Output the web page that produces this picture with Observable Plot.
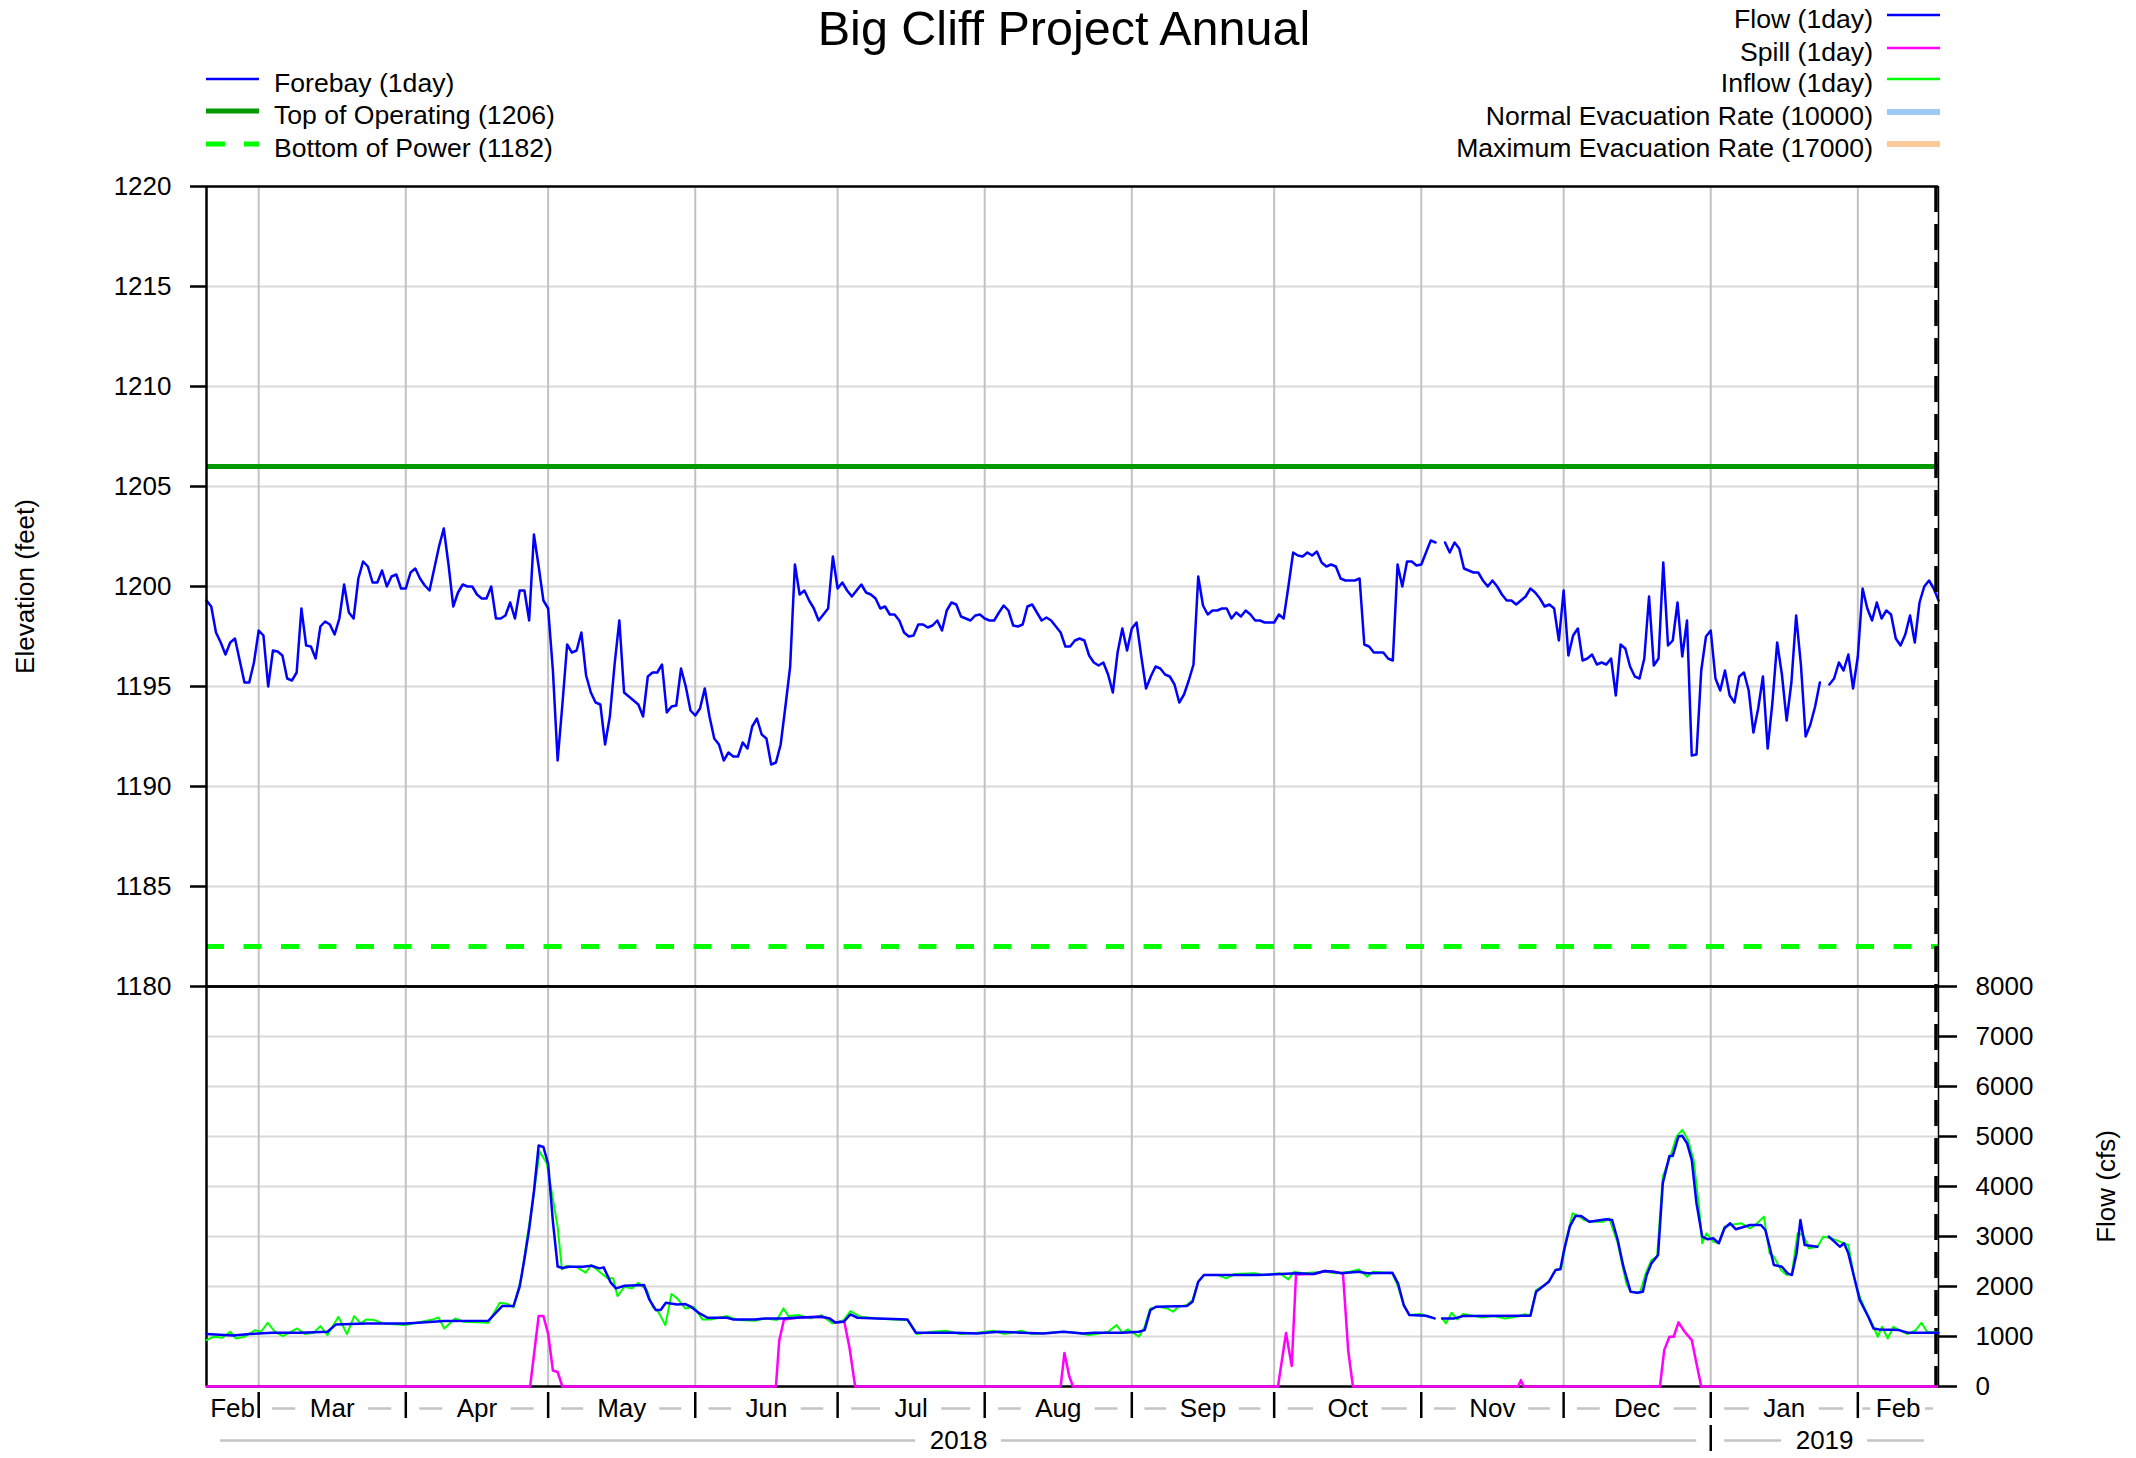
<!DOCTYPE html>
<html><head><meta charset="utf-8">
<script src="https://cdn.jsdelivr.net/npm/d3@7"></script>
<script src="https://cdn.jsdelivr.net/npm/@observablehq/plot@0.6"></script>
<style>
html,body{margin:0;padding:0;background:#fff;}
#chart{position:relative;width:2136px;height:1458px;overflow:hidden;background:#fff;font-family:"Liberation Sans",Arial,Helvetica,sans-serif;}
#chart svg{position:absolute;left:0;}
</style></head><body><div id="chart"></div>
<script>
// ---------------- data ----------------
const chartTitle = "Big Cliff Project Annual";
const startDate = Date.UTC(2018, 1, 18);   // first daily value
const endDate = Date.UTC(2019, 1, 18);     // last daily value
const DAY = 864e5;

// Forebay elevation (ft), one value per day from 2018-02-18 (null = missing)
const forebay = [
1199.3,1199.0,1197.7,1197.2,1196.6,1197.2,1197.4,1196.3,1195.2,1195.2,
1196.2,1197.8,1197.55,1195.0,1196.8,1196.75,1196.55,1195.4,1195.3,1195.7,
1198.9,1197.05,1197.0,1196.4,1198.0,1198.25,1198.1,1197.6,1198.4,1200.1,
1198.7,1198.4,1200.4,1201.25,1201.0,1200.2,1200.2,1200.8,1200.0,1200.5,
1200.6,1199.9,1199.9,1200.7,1200.9,1200.4,1200.05,1199.8,1200.9,1202.0,
1202.9,1201.1,1199.0,1199.7,1200.1,1200.0,1200.0,1199.6,1199.4,1199.4,
1200.0,1198.4,1198.4,1198.55,1199.2,1198.4,1199.8,1199.8,1198.3,1202.6,
1201.0,1199.3,1198.9,1195.8,1191.3,1194.1,1197.1,1196.7,1196.8,1197.7,
1195.55,1194.7,1194.2,1194.1,1192.1,1193.5,1196.1,1198.3,1194.7,1194.5,
1194.3,1194.1,1193.5,1195.5,1195.7,1195.7,1196.1,1193.7,1194.0,1194.05,
1195.9,1195.0,1193.8,1193.55,1193.9,1194.9,1193.5,1192.4,1192.1,1191.3,
1191.7,1191.5,1191.5,1192.2,1191.9,1193.0,1193.4,1192.6,1192.4,1191.1,
1191.2,1192.1,1194.0,1196.0,1201.1,1199.6,1199.8,1199.3,1198.9,1198.3,
1198.6,1198.9,1201.5,1199.9,1200.2,1199.8,1199.5,1199.8,1200.1,1199.7,
1199.6,1199.4,1198.9,1199.0,1198.6,1198.6,1198.3,1197.7,1197.5,1197.55,
1198.1,1198.1,1197.95,1198.05,1198.3,1197.8,1198.8,1199.2,1199.1,1198.5,
1198.4,1198.3,1198.55,1198.6,1198.4,1198.3,1198.3,1198.7,1199.05,1198.8,
1198.05,1198.0,1198.1,1199.0,1199.1,1198.7,1198.3,1198.45,1198.3,1198.0,
1197.7,1197.0,1197.0,1197.3,1197.4,1197.3,1196.55,1196.2,1196.05,1196.2,
1195.6,1194.7,1196.7,1197.9,1196.8,1197.9,1198.2,1196.5,1194.9,1195.5,
1196.0,1195.9,1195.6,1195.5,1195.1,1194.2,1194.6,1195.3,1196.1,1200.5,
1199.05,1198.6,1198.8,1198.8,1198.9,1198.9,1198.4,1198.7,1198.5,1198.8,
1198.6,1198.3,1198.3,1198.2,1198.2,1198.2,1198.6,1198.4,1200.0,1201.7,
1201.55,1201.5,1201.7,1201.55,1201.75,1201.2,1201.0,1201.1,1201.0,1200.4,
1200.3,1200.3,1200.3,1200.4,1197.1,1197.0,1196.7,1196.7,1196.7,1196.4,
1196.3,1201.1,1200.0,1201.25,1201.25,1201.05,1201.1,1201.7,1202.3,1202.2,
null,1202.2,1201.7,1202.2,1201.9,1200.9,1200.8,1200.7,1200.7,1200.3,
1200.0,1200.3,1200.0,1199.6,1199.3,1199.3,1199.1,1199.3,1199.5,1199.9,
1199.7,1199.4,1199.0,1199.1,1198.9,1197.3,1199.8,1196.55,1197.55,1197.9,
1196.3,1196.4,1196.6,1196.1,1196.2,1196.1,1196.4,1194.55,1197.1,1196.9,
1196.0,1195.5,1195.4,1196.4,1199.5,1196.05,1196.4,1201.2,1197.05,1197.3,
1199.2,1196.5,1198.3,1191.55,1191.6,1195.8,1197.5,1197.8,1195.4,1194.8,
1195.8,1194.55,1194.2,1195.5,1195.7,1194.8,1192.7,1193.9,1195.5,1191.9,
1194.2,1197.2,1195.6,1193.3,1195.2,1198.55,1196.1,1192.5,1193.1,1194.0,
1195.2,null,1195.1,1195.4,1196.2,1195.8,1196.6,1194.9,1196.5,1199.9,
1198.9,1198.3,1199.2,1198.4,1198.8,1198.6,1197.4,1197.05,1197.6,1198.55,
1197.2,1199.2,1200.0,1200.3,1199.9,1199.3
];

// Flow (cfs): day offset from 2018-02-18 and value read at each visible vertex
const flowDays = [0,5.6,9.1,13.8,19.7,25.5,27.3,33.7,41.9,45.4,50.1,59.4,62.3,64.7,66,67,68,69,70,71,72,73,74,75,76.4,79.3,81.1,82.8,83.7,85.2,86.3,88.1,92.2,93.3,94.7,95.7,96.8,99.2,100.9,102.1,103.9,105.6,109.7,110.9,115.6,117.9,121.4,124.9,129.6,131.3,132.5,134.3,135.7,137.2,141.3,144.8,147.7,149.5,157.7,162.3,167,171.7,176.4,180.5,184.7,187.1,193,196.5,197.7,198.9,200.1,206.6,207.8,209,210.2,221.5,229.8,233.3,235.7,237.5,239.2,242.8,244.6,249.9,251.1,252.3,253.5,257,258.8,259.6,260.4,263,264.8,279,280.2,282,282.9,284.3,285.3,286.1,287.3,288.5,289.7,291.4,295,296.2,297.4,298.6,300.1,301.5,302.7,303.5,304.5,305.9,306.9,308.3,309,310.2,311,312,313,314,315.2,316.4,317.5,318.7,319.9,321.1,322.3,325.3,327.6,328.5,329.4,330.3,332,333.2,334.1,335.1,335.9,336.8,339.5,340.7,341.9,344.2,345.1,346,347.2,348.4,350.2,351.3,352.5,356.7,358.5,365];
const flowCfs = [1048,1021,1048,1075,1075,1095,1242,1262,1262,1282,1308,1315,1609,1609,2000,2550,3150,3900,4820,4790,4450,3300,2400,2370,2396,2396,2416,2363,2383,2076,1962,2016,2029,1742,1529,1529,1675,1642,1649,1595,1462,1375,1375,1342,1342,1362,1362,1382,1395,1362,1282,1295,1442,1375,1362,1348,1342,1075,1075,1061,1095,1075,1061,1095,1061,1075,1075,1095,1128,1529,1595,1609,1695,2096,2229,2229,2263,2250,2310,2296,2263,2296,2263,2276,2063,1629,1428,1415,1362,null,1362,1362,1408,1415,1896,2029,2096,2330,2343,2730,3197,3411,3411,3297,3344,3331,2930,2396,1896,1876,1896,2229,2463,2630,4065,4612,4612,5000,5013,4866,4532,3665,2997,2944,2964,2864,3164,3264,3144,3231,3231,3131,2797,2430,2396,2263,2229,2663,3331,2830,2797,null,2997,2797,2864,2663,2196,1729,1395,1162,1141,1128,1075,1075];

// Inflow (cfs)
const inflowDays = [0,1.5,3.3,5,6.2,8,10.3,11.5,12.9,14.4,16.1,19.1,20.8,22.6,24,25.5,27.8,29.6,31.1,32.5,33.7,35.4,37.2,41.9,47.7,48.9,50.1,52.4,54.2,59.4,61.8,63.5,64.7,66.4,67.6,68.8,70.2,71.7,74,74.9,75.8,78.1,79.9,81.1,82.8,84.6,85.7,86.6,88.1,89.6,91,92.8,94,95.2,96.7,98,99.2,100.9,102.7,104.5,106.2,109.7,112.1,115.6,117.9,120.2,121.6,122.6,124.9,127.3,129.6,131.9,134.3,135.7,137.8,141.3,144.8,147.7,149.7,153,155.9,158.8,162.3,165.9,168.2,171.7,174,177.5,181,183.5,185.9,187.6,190,191.8,193,194.2,196.5,197.7,198.9,200.7,202.5,203.7,204.8,206.6,207.8,209,210.2,213.1,214.9,216.7,220.9,222.6,226.2,228,229.2,230.9,235.7,238.1,241,242.8,244.6,245.8,249.9,251.1,252.3,253.5,255.9,258.8,259.6,260.4,261.2,262.4,263.6,264.8,268.9,271.3,273.6,276,277.8,279,280.2,282,283.1,284.3,285.5,286.7,287.9,289.1,290.3,292,294.4,295.6,297.4,299.2,300.1,302.1,303.3,304.5,305.7,306.9,308.6,309.8,311,312.2,313.4,314.6,315.2,316.1,317.5,318.7,319.9,321.1,323.5,325.3,326.4,328.2,329.4,330.3,331.8,333,334.1,335.3,336.5,337.7,339.5,340.7,342.5,344.2,346,347.2,348.4,349.6,351.3,352.2,353.1,354.3,355.5,356.7,358.5,360.2,361.4,362.6,365];
const inflowCfs = [928,995,975,1095,961,995,1128,1095,1275,1095,1008,1161,1048,1075,1208,1028,1395,1048,1408,1262,1342,1328,1262,1228,1342,1382,1161,1362,1295,1275,1675,1649,1582,2196,2997,3731,4699,4466,3197,2343,2410,2383,2276,2430,2296,2163,2163,1809,1996,1962,2076,1929,1595,1495,1228,1849,1762,1562,1595,1342,1342,1408,1328,1315,1362,1328,1562,1408,1428,1362,1428,1262,1328,1509,1395,1362,1342,1328,1048,1095,1115,1048,1075,1115,1048,1115,1048,1075,1095,1075,1028,1048,1095,1228,1075,1141,995,1195,1562,1595,1562,1495,1595,1629,1729,2096,2229,2229,2163,2250,2263,2229,2263,2143,2296,2263,2296,2263,2296,2343,2196,2296,2263,1996,1629,1428,1448,1362,null,1362,1262,1475,1342,1448,1382,1408,1362,1395,1448,1415,1929,2029,2129,2330,2363,2997,3464,3411,3331,3297,3297,3364,2864,2063,1896,1876,2263,2530,2597,4199,4632,5000,5133,4933,4532,3531,2864,3064,2897,2864,3197,3231,3264,3164,3231,3398,2663,2597,2330,2229,2263,3064,3031,2764,2797,2997,2964,2897,2830,2196,1796,1529,1195,995,1195,961,1195,1128,1048,1128,1275,1095,1075];

// Spill (cfs)
const spillDays = [0,68.2,70,71,72,73,74,75,120,120.7,121.7,124.9,129.6,131.3,132.5,134.4,135.5,136.7,180,180.8,181.8,182.6,225.8,227.5,228.7,229.6,233.3,235.7,237.5,239.5,240.6,241.6,276.4,277,277.6,306.3,307.2,308.3,309.2,310.2,311.5,313,314,315,365];
const spillCfs = [0,0,1410,1410,1050,320,290,0,0,920,1340,1382,1395,1362,1282,1300,780,0,0,670,210,0,0,1070,410,2240,2250,2310,2296,2263,720,0,0,127,0,0,728,995,995,1282,1095,928,460,0,0];

const topOfOperating = 1206;
const bottomOfPower = 1182;
const evacuationRates = [10000, 17000];      // normal, maximum (above the 8000 cfs scale)

const elevTicks = [1180,1185,1190,1195,1200,1205,1210,1215,1220];
const flowTicks = [0,1000,2000,3000,4000,5000,6000,7000,8000];
const monthLabels = ["Feb","Mar","Apr","May","Jun","Jul","Aug","Sep","Oct","Nov","Dec","Jan","Feb"];
const yearLabels = ["2018","2019"];
const leftLegendLabels = ["Forebay (1day)","Top of Operating (1206)","Bottom of Power (1182)"];
const rightLegendLabels = ["Flow (1day)","Spill (1day)","Inflow (1day)","Normal Evacuation Rate (10000)","Maximum Evacuation Rate (17000)"];

// ---------------- layout / style ----------------
const FONT = "'Liberation Sans', Arial, Helvetica, sans-serif";
const W = 2136, ML = 206, MR = 198, PW = W - ML - MR;
const C = {forebay:"#0000ff", top:"#009900", bottom:"#00ff00", flow:"#0000ff", spill:"#ff00ff", inflow:"#00ff00", normal:"#9ec9f5", max:"#fbc99c", hgrid:"#d9d9d9", vgrid:"#c2c2c2"};
const leftLegendStyle = [{c:C.forebay,w:2.5},{c:C.top,w:5},{c:C.bottom,w:5,d:"19,19"}];
const rightLegendStyle = [{c:C.flow,w:2.5},{c:C.spill,w:2.5},{c:C.inflow,w:2.5},{c:C.normal,w:6},{c:C.max,w:6}];

const toDate = t => new Date(startDate + t * DAY);
const xDomain = [new Date(startDate), new Date(endDate)];
const monthStarts = d3.utcMonth.range(xDomain[0], xDomain[1]);
const forebayData = forebay.map((v, i) => ({date: toDate(i), value: v}));
const pairs = (days, vals) => days.map((d, i) => ({date: toDate(d), value: vals[i]}));
const flowData = pairs(flowDays, flowCfs);
const inflowData = pairs(inflowDays, inflowCfs);
const spillData = pairs(spillDays, spillCfs);
const flowMax = flowTicks[flowTicks.length - 1];

const baseStyle = {background:"transparent", overflow:"visible", fontFamily:FONT, color:"black"};
const frameMarks = (yLo, yHi) => [
  Plot.ruleY([yLo, yHi], {stroke:"black", strokeWidth:2.5}),
  Plot.ruleX([xDomain[0]], {stroke:"black", strokeWidth:2.5}),
  Plot.ruleX([xDomain[1]], {stroke:"black", strokeWidth:1.5}),
  Plot.ruleX([xDomain[1]], {stroke:"black", strokeWidth:3.5, dx:-2.5, strokeDasharray:"26,12"})
];

const chart = document.getElementById("chart");

// ---------- upper panel: elevation ----------
const upper = Plot.plot({
  width: W, height: 836, marginTop: 36, marginBottom: 0, marginLeft: ML, marginRight: MR,
  style: baseStyle,
  x: {type:"utc", domain: xDomain, axis: null},
  y: {domain: [1180, 1220], axis: null},
  marks: [
    Plot.ruleY(elevTicks.slice(1, -1), {stroke: C.hgrid, strokeWidth: 2}),
    Plot.ruleX(monthStarts, {stroke: C.vgrid, strokeWidth: 2}),
    Plot.ruleY([topOfOperating], {stroke: C.top, strokeWidth: 5}),
    Plot.ruleY([bottomOfPower], {stroke: C.bottom, strokeWidth: 5, strokeDasharray: "18,19.5"}),
    Plot.lineY(forebayData, {x: "date", y: "value", stroke: C.forebay, strokeWidth: 2.5}),
    ...frameMarks(1180, 1220),
    Plot.ruleY(elevTicks, {insetLeft: -16, insetRight: PW, stroke: "black", strokeWidth: 2.5}),
    Plot.text(elevTicks, {y: d => d, text: d => String(d), frameAnchor: "left", dx: -35, textAnchor: "end", fontSize: 26}),
    Plot.text(["Elevation (feet)"], {frameAnchor: "left", dx: -181, rotate: -90, textAnchor: "middle", fontSize: 26})
  ]
});
upper.style.top = "150px";
chart.appendChild(upper);

// ---------- lower panel: flow ----------
const lower = Plot.plot({
  width: W, height: 400, marginTop: 0, marginBottom: 0, marginLeft: ML, marginRight: MR,
  style: baseStyle,
  x: {type:"utc", domain: xDomain, axis: null},
  y: {domain: [0, flowMax], axis: null},
  marks: [
    Plot.ruleY(flowTicks.slice(1, -1), {stroke: C.hgrid, strokeWidth: 2}),
    Plot.ruleX(monthStarts, {stroke: C.vgrid, strokeWidth: 2}),
    ...frameMarks(0, flowMax),
    Plot.ruleY(evacuationRates.filter(v => v <= flowMax), {stroke: C.normal, strokeWidth: 6}),
    Plot.lineY(inflowData, {x: "date", y: "value", stroke: C.inflow, strokeWidth: 2}),
    Plot.lineY(spillData, {x: "date", y: "value", stroke: C.spill, strokeWidth: 2.5}),
    Plot.lineY(flowData, {x: "date", y: "value", stroke: C.flow, strokeWidth: 2.5}),
    Plot.ruleY(flowTicks, {insetLeft: PW, insetRight: -19, stroke: "black", strokeWidth: 2.5}),
    Plot.text(flowTicks, {y: d => d, text: d => String(d), frameAnchor: "right", dx: 37, textAnchor: "start", fontSize: 26}),
    Plot.text(["Flow (cfs)"], {frameAnchor: "right", dx: 168, rotate: -90, textAnchor: "middle", fontSize: 26})
  ]
});
lower.style.top = "986px";
chart.appendChild(lower);

// ---------- date axis (month row + year row) ----------
const ctx = document.createElement("canvas").getContext("2d");
ctx.font = "26px " + FONT;
const px = d3.scaleUtc().domain(xDomain).range([ML, W - MR]);
function intervals(bounds, labels, row) {
  return labels.map((label, i) => ({a: bounds[i], b: bounds[i + 1], label, row, mid: new Date((+bounds[i] + +bounds[i + 1]) / 2)}));
}
function dashes(iv) {
  const pa = px(iv.a), pb = px(iv.b), mid = (pa + pb) / 2, w = ctx.measureText(iv.label).width;
  const out = [];
  for (const [s, e] of [[pa, mid - w / 2], [mid + w / 2, pb]]) {
    const L = e - s, g = Math.min(14, 0.275 * L);
    if (L - 2 * g > 3) out.push({row: iv.row, x1: px.invert(s + g), x2: px.invert(e - g)});
  }
  return out;
}
const monthIv = intervals([xDomain[0], ...monthStarts, xDomain[1]], monthLabels, "month");
const jan1 = monthStarts.filter(d => d.getUTCMonth() === 0);
const yearIv = intervals([xDomain[0], ...jan1, xDomain[1]], yearLabels, "year");
const dashSegs = [...monthIv, ...yearIv].flatMap(dashes);

const axis = Plot.plot({
  width: W, height: 72, marginTop: 0, marginBottom: 0, marginLeft: ML, marginRight: MR,
  style: baseStyle,
  x: {type:"utc", domain: xDomain, axis: null},
  y: {type: "band", domain: ["month", "year"], range: [6, 70], padding: 0, axis: null},
  marks: [
    Plot.ruleY(dashSegs, {y: "row", x1: "x1", x2: "x2", stroke: "#c4c4c4", strokeWidth: 2.5}),
    Plot.tickX(monthStarts, {x: d => d, y: () => "month", insetBottom: 6, stroke: "black", strokeWidth: 2.5}),
    Plot.tickX(jan1, {x: d => d, y: () => "year", insetTop: 1, insetBottom: 5, stroke: "black", strokeWidth: 2.5}),
    Plot.text(monthIv, {x: "mid", y: "row", text: "label", fontSize: 26}),
    Plot.text(yearIv, {x: "mid", y: "row", text: "label", fontSize: 26})
  ]
});
axis.style.top = "1386px";
chart.appendChild(axis);

// ---------- title and legends ----------
const header = d3.create("svg").attr("width", W).attr("height", 186)
  .style("top", "0px").style("overflow", "visible").attr("font-family", FONT);
header.append("text").attr("x", 1064).attr("y", 45).attr("text-anchor", "middle")
  .attr("font-size", 48.5).attr("fill", "black").text(chartTitle);
const leftRows = [79, 111, 144];
leftLegendLabels.forEach((label, i) => {
  const s = leftLegendStyle[i], y = leftRows[i];
  header.append("line").attr("x1", 206).attr("x2", 259).attr("y1", y).attr("y2", y)
    .attr("stroke", s.c).attr("stroke-width", s.w).attr("stroke-dasharray", s.d || null);
  header.append("text").attr("x", 274).attr("y", y + 12.5).attr("font-size", 26.6).text(label);
});
const rightRows = [15, 48, 79, 112, 144];
rightLegendLabels.forEach((label, i) => {
  const s = rightLegendStyle[i], y = rightRows[i];
  header.append("line").attr("x1", 1887).attr("x2", 1940).attr("y1", y).attr("y2", y)
    .attr("stroke", s.c).attr("stroke-width", s.w);
  header.append("text").attr("x", 1873).attr("y", y + 12.5).attr("text-anchor", "end").attr("font-size", 26.6).text(label);
});
chart.appendChild(header.node());
</script>
</body></html>
